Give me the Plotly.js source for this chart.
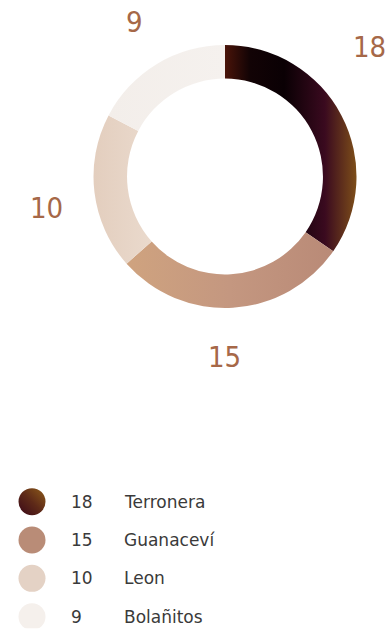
<!DOCTYPE html>
<html>
<head>
<meta charset="utf-8">
<script src="https://cdn.plot.ly/plotly-3.0.1.min.js"></script>
<style>
  html, body { margin: 0; padding: 0; background: #ffffff; }
  #chart { width: 387px; height: 630px; }
</style>
</head>
<body>
<div id="chart"></div>
<script>
// ---- data ----
const categories = ['Terronera', 'Guanaceví', 'Leon', 'Bolañitos'];
const values = [18, 15, 10, 9];
const sliceColors = ['#1a0508', '#c29580', '#e7d5c7', '#f4efeb'];
const legendColors = ['#6a3a1a', '#b98c77', '#e4d2c5', '#f5f0ec'];

// ---- layout constants ----
const W = 387, H = 630;
const CX = 225, CY = 176.5, R = 131.5;      // donut centre / radius in px
const LABEL_R = 181;                         // radius of value labels
const labelNudge = [[-16, -45], [-11, 0], [1, 10], [3, 0]]; // px adjustments
const LABEL_COLOR = '#a66848';
const TEXT_COLOR = '#3a3a3a';

const total = values.reduce((a, b) => a + b, 0);
let cum = 0;
const labelAnnotations = values.map((v, i) => {
  const theta = (cum + v / 2) / total * 2 * Math.PI;
  cum += v;
  const px = CX + LABEL_R * Math.sin(theta) + labelNudge[i][0];
  const py = CY - LABEL_R * Math.cos(theta) + labelNudge[i][1];
  return {
    xref: 'paper', yref: 'paper',
    x: px / W, y: 1 - py / H,
    xanchor: 'center', yanchor: 'middle',
    text: String(v), showarrow: false,
    font: { family: 'DejaVu Sans Condensed, DejaVu Sans, sans-serif', size: 29, color: LABEL_COLOR }
  };
});

const legendValueAnn = values.map((v, i) => ({
  xref: 'x', yref: 'y', x: 69, y: i, xanchor: 'left', yanchor: 'middle',
  text: String(v), showarrow: false,
  font: { family: 'DejaVu Sans, sans-serif', size: 17, color: TEXT_COLOR }
}));
const legendNameAnn = categories.map((c, i) => ({
  xref: 'x', yref: 'y', x: 122, y: i, xanchor: 'left', yanchor: 'middle',
  text: c, showarrow: false,
  font: { family: 'DejaVu Sans, sans-serif', size: 17, color: TEXT_COLOR }
}));

const pie = {
  type: 'pie',
  labels: categories,
  values: values,
  sort: false,
  direction: 'clockwise',
  rotation: 0,
  hole: 0.745,
  textinfo: 'none',
  hoverinfo: 'label+value',
  marker: { colors: sliceColors, line: { width: 0 } },
  domain: { x: [(CX - R) / W, (CX + R) / W], y: [1 - (CY + R) / H, 1 - (CY - R) / H] },
  showlegend: false
};

const legendDots = {
  type: 'scatter',
  mode: 'markers',
  x: categories.map(() => 32),
  y: categories.map((c, i) => i),
  marker: { size: 27, color: legendColors, line: { width: 0 } },
  hoverinfo: 'skip',
  showlegend: false,
  xaxis: 'x', yaxis: 'y'
};

const layout = {
  width: W, height: H,
  margin: { l: 0, r: 0, t: 0, b: 0 },
  paper_bgcolor: '#ffffff',
  plot_bgcolor: 'rgba(0,0,0,0)',
  showlegend: false,
  xaxis: { range: [0, W], visible: false, fixedrange: true, domain: [0, 1] },
  yaxis: { range: [3.3, -0.5], visible: false, fixedrange: true,
           domain: [(H - 628.2) / H, (H - 482.5) / H] },
  annotations: labelAnnotations.concat(legendValueAnn, legendNameAnn)
};

function addGradient(defs, id, stops, dir) {
  const ns = 'http://www.w3.org/2000/svg';
  const g = document.createElementNS(ns, 'linearGradient');
  g.setAttribute('id', id);
  g.setAttribute('x1', dir[0]); g.setAttribute('y1', dir[1]);
  g.setAttribute('x2', dir[2]); g.setAttribute('y2', dir[3]);
  stops.forEach(s => {
    const st = document.createElementNS(ns, 'stop');
    st.setAttribute('offset', s[0]);
    st.setAttribute('stop-color', s[1]);
    g.appendChild(st);
  });
  defs.appendChild(g);
}

Plotly.newPlot('chart', [pie, legendDots], layout, { staticPlot: true, displayModeBar: false }).then(gd => {
  const defs = gd.querySelector('svg.main-svg defs');
  if (!defs) return;
  const H_DIR = ['0', '0', '1', '0'];
  const sliceGrads = [
    [[0, '#4a1409'], [0.19, '#120305'], [0.45, '#0a0004'], [0.76, '#3a0a1f'], [1, '#7d4e19']],
    [[0, '#cfa37f'], [0.5, '#c49780'], [1, '#b98a77']],
    [[0, '#e3cebe'], [1, '#eadacd']],
    [[0, '#f3eeea'], [1, '#f5f1ee']]
  ];
  sliceGrads.forEach((s, i) => addGradient(defs, 'sliceGrad' + i, s, H_DIR));
  addGradient(defs, 'dotGrad0', [[0, '#3a0818'], [0.5, '#5e2a18'], [1, '#8e5c1a']], ['0', '1', '1', '0']);

  gd.querySelectorAll('.slice path.surface').forEach((p, i) => {
    p.style.fill = 'url(#sliceGrad' + i + ')';
  });
  const pts = gd.querySelectorAll('.scatterlayer .point');
  if (pts[0]) pts[0].style.fill = 'url(#dotGrad0)';
});
</script>
</body>
</html>
